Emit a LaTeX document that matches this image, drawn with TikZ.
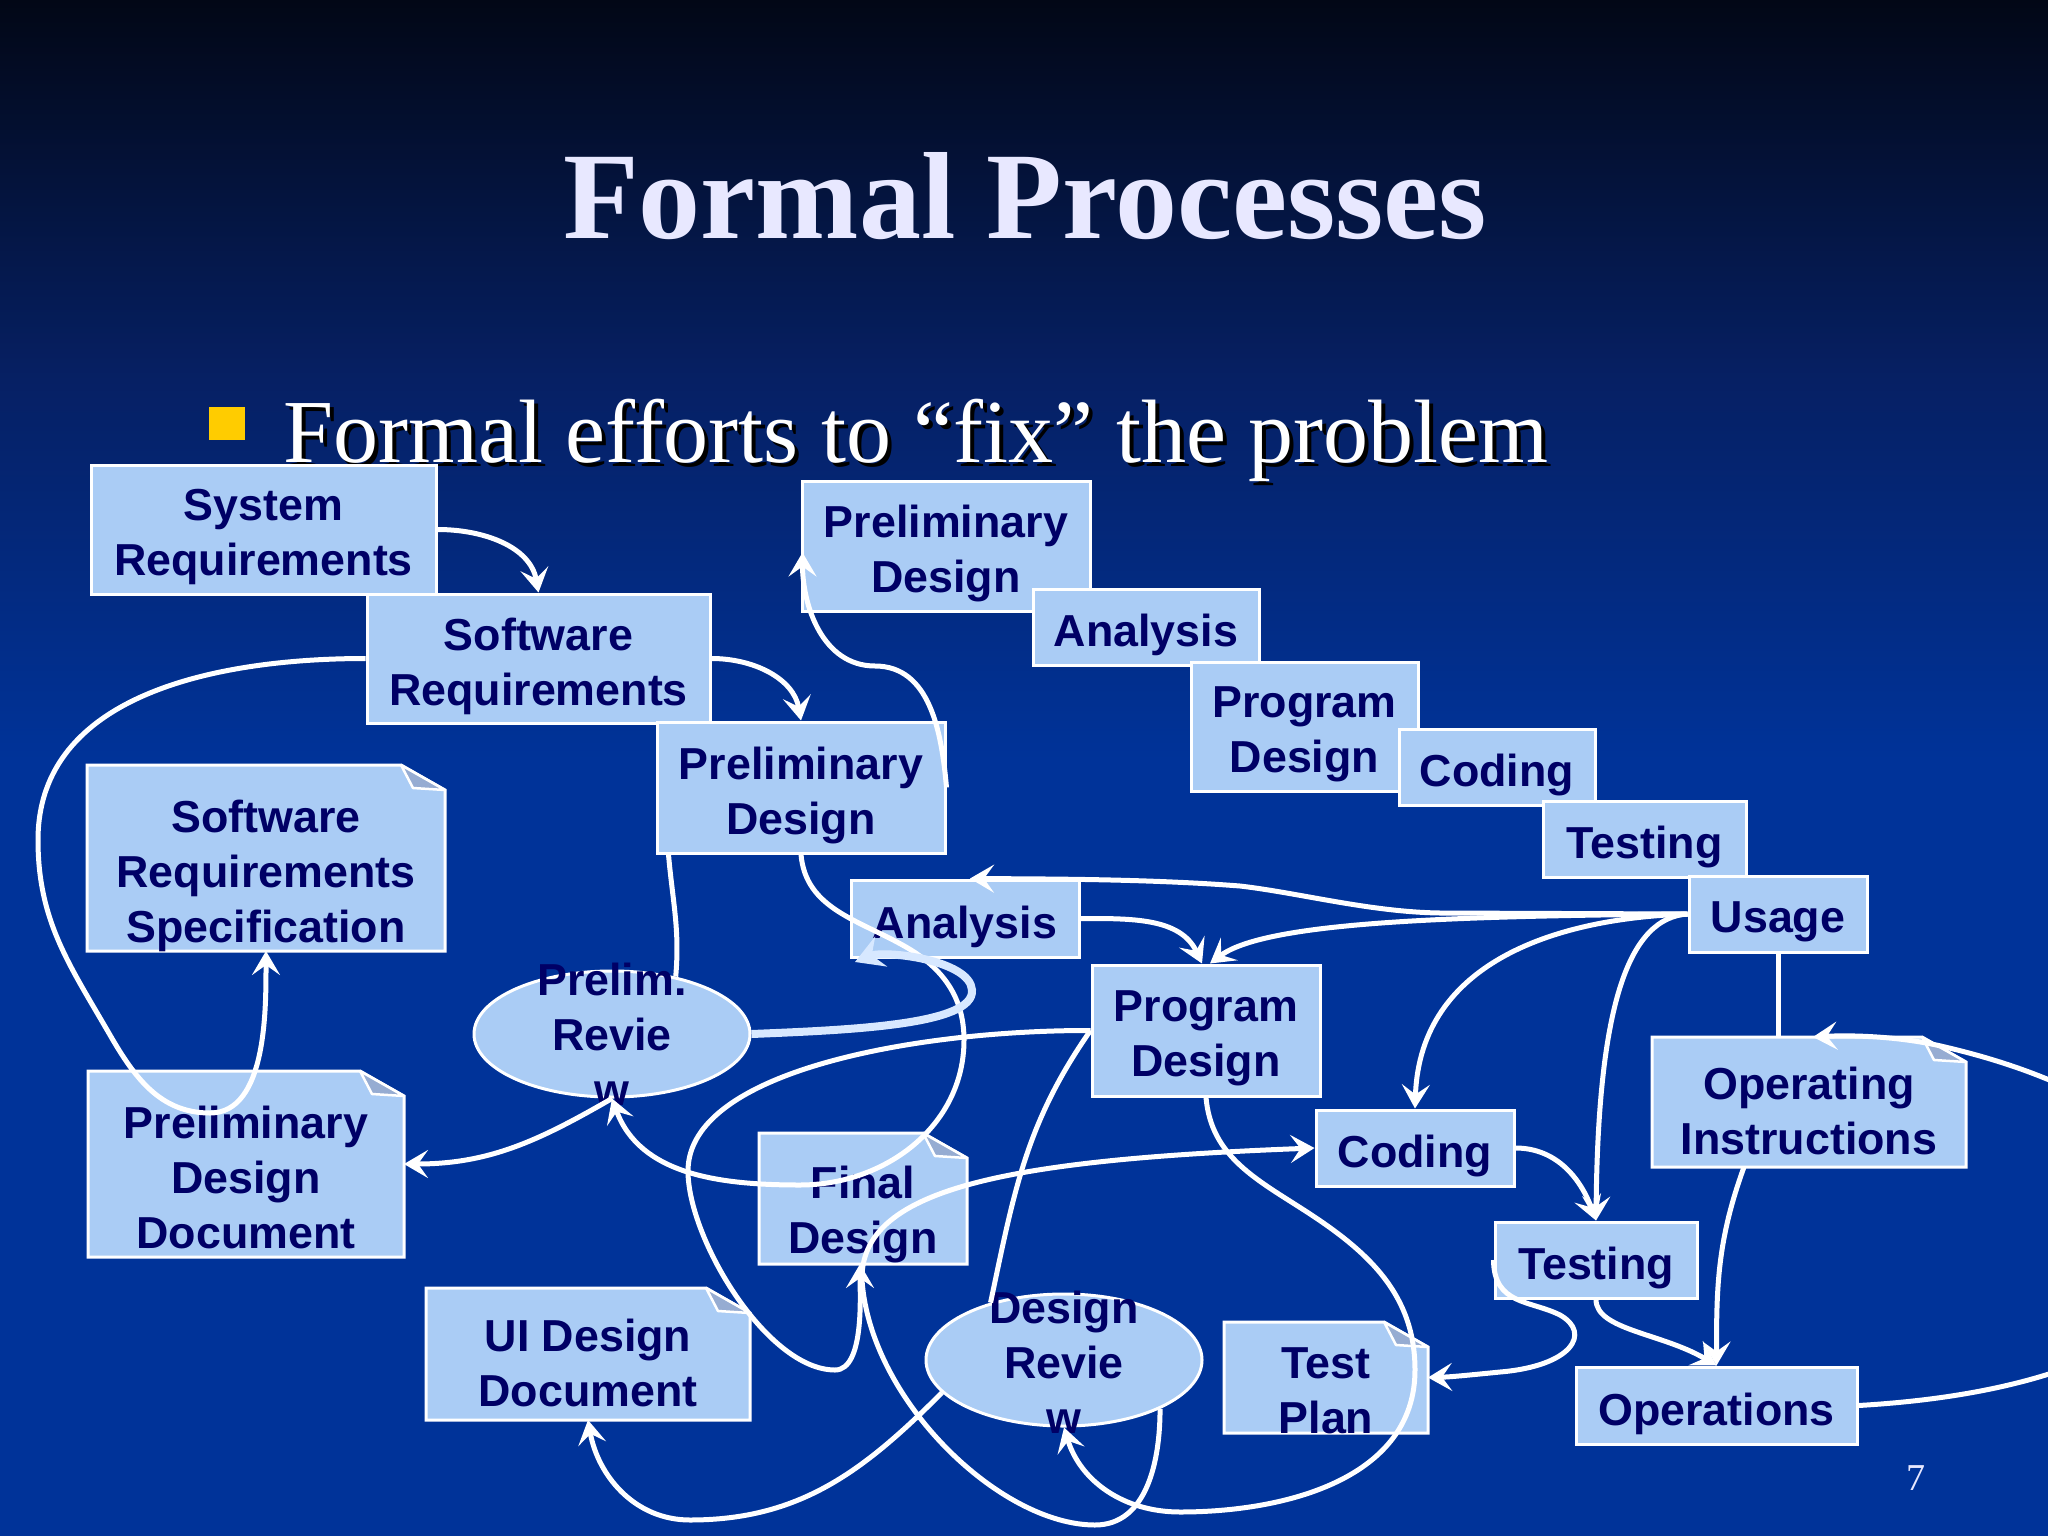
\documentclass[tikz,border=0pt]{standalone}
\usepackage{fontspec}
\setmainfont{Liberation Serif}
\newfontfamily\sansfam{Liberation Sans}
\usetikzlibrary{shapes.geometric,arrows.meta,calc}
\definecolor{bgtop}{RGB}{2,7,22}
\definecolor{bgmid}{RGB}{6,32,100}
\definecolor{bgbot}{RGB}{0,51,153}
\definecolor{boxfill}{RGB}{170,204,245}
\definecolor{navy}{RGB}{0,0,102}
\definecolor{flapcol}{RGB}{150,172,210}
\definecolor{lightline}{RGB}{215,232,255}
\definecolor{titlecol}{RGB}{232,232,255}
\definecolor{bulletcol}{RGB}{255,204,0}
\tikzset{
  boxtext/.style={text=navy, font=\sansfam\bfseries\fontsize{44.8}{55}\selectfont, align=center, inner sep=0pt},
  pbox/.style={rectangle, fill=boxfill, draw=white, line width=3pt, inner sep=0pt},
  docframe/.style={rectangle, inner sep=0pt, outer sep=0pt},
  oval/.style={ellipse, fill=boxfill, draw=white, line width=3pt, inner sep=0pt},
  conn/.style={draw=white, line width=5pt, -{Stealth[length=24pt,width=28pt,inset=10pt]}},
  lightconn/.style={draw=lightline, line width=8pt, -{Stealth[length=28pt,width=32pt,inset=10pt]}},
  plainline/.style={draw=white, line width=5pt}
}
% name, cx, cy, w, h, text
\newcommand\boxnode[6]{%
  \node[pbox, minimum width=#4pt, minimum height=#5pt] (#1) at (#2,#3) {};
  \node[boxtext] (#1-t) at ($(#1.center)+(0,8)$) {#6};
}
% name, cx, cy, w, h, text offset, text
\newcommand\docnode[7]{%
  \node[docframe, minimum width=#4pt, minimum height=#5pt] (#1) at (#2,#3) {};
  \path[fill=boxfill, draw=white, line width=3pt]
    (#1.north west) -- ($(#1.north east)+(-44,0)$) -- ($(#1.north east)+(0,25)$) -- (#1.south east) -- (#1.south west) -- cycle;
  \path[fill=flapcol, draw=white, line width=2.5pt, line join=round]
    ($(#1.north east)+(-44,0)$) -- ($(#1.north east)+(-32,23)$) -- ($(#1.north east)+(0,25)$) -- cycle;
  \node[boxtext] (#1-t) at ($(#1.center)+(0,#6)$) {#7};
}
\begin{document}
\begin{tikzpicture}[x=1pt,y=-1pt]
\useasboundingbox (0,0) rectangle (2048,1536);
\begin{scope}
\clip (0,0) rectangle (2048,1536);
% background
\shade[top color=bgtop, bottom color=bgbot, middle color=bgmid] (0,0) rectangle (2048,760);
\fill[bgbot] (0,759) rectangle (2048,1536);

% title and bullet
\node[anchor=base, text=titlecol, font=\bfseries\fontsize{124}{130}\selectfont] (title) at (1025,238) {Formal Processes};
\node[fill=bulletcol, minimum width=36pt, minimum height=33pt, inner sep=0pt] (bsq) at (227,423.5) {};
\node[anchor=base west, text=black, font=\fontsize{90}{95}\selectfont, inner sep=0pt] (bulshadow) at (287,466) {Formal efforts to “fix” the problem};
\node[anchor=base west, text=white, font=\fontsize{90}{95}\selectfont, inner sep=0pt] (bullet) at (283,462) {Formal efforts to “fix” the problem};

% boxes
\boxnode{sysreq}{263.5}{529.5}{345}{129}{System\\Requirements}
\boxnode{swreq}{538.5}{658.5}{343}{129}{Software\\Requirements}
\boxnode{pd2}{801}{787.5}{288}{131}{Preliminary\\Design}
\boxnode{pd1}{946}{546}{288}{130}{Preliminary\\Design}
\boxnode{an1}{1146}{627}{226}{76}{Analysis}
\boxnode{pgd1}{1304.5}{726.5}{227}{129}{Program\\Design}
\boxnode{cod1}{1497}{767}{196}{76}{Coding}
\boxnode{tst1}{1644.5}{839}{203}{76}{Testing}
\boxnode{usage}{1778}{914}{178}{76}{Usage}
\boxnode{an2}{965}{918.5}{228}{77}{Analysis}
\boxnode{pgd2}{1206}{1030.5}{228}{131}{Program\\Design}
\boxnode{cod2}{1415}{1148}{198}{76}{Coding}
\boxnode{tst2}{1596}{1260}{202}{76}{Testing}
\boxnode{ops}{1716.5}{1405.5}{281}{77}{Operations}

\docnode{srs}{266}{858}{358}{186}{18}{Software\\Requirements\\Specification}
\docnode{pdd}{246}{1164}{316}{186}{13}{Preliminary\\Design\\Document}
\docnode{uid}{588}{1354}{324}{132}{9}{UI Design\\Document}
\docnode{fd}{863}{1198.5}{208}{131}{16}{Final\\Design}
\docnode{tpl}{1326}{1377.5}{204}{111}{13}{Test\\Plan}
\docnode{opi}{1809}{1102}{314}{130}{9}{Operating\\Instructions}

\node[oval, minimum width=276pt, minimum height=126pt] (prev) at (612,1034) {};
\node[boxtext] (prev-t) at (prev.center) {Prelim.\\Revie\\w};
\node[oval, minimum width=276pt, minimum height=132pt] (drev) at (1064,1360) {};
\node[boxtext] (drev-t) at ($(drev.center)+(0,2)$) {Design\\Revie\\w};

% connectors
\draw[conn] (sysreq.east) to[out=0,in=100] (swreq.north);
\draw[conn] (swreq.east) to[out=0,in=100] (pd2.north);
\draw[conn] (swreq.west) to[out=180,in=90] (38,840) to[out=270,in=120] (110,1035)
  to[out=300,in=180] (210,1113) to[out=0,in=270,looseness=0.85] (srs.south);
\draw[conn] (prev.south) to[out=210,in=0] (pdd.east);
\draw[conn] (pd2.south) to[out=275,in=150] (906,947) to[out=-30,in=90] (964,1040)
  to[out=270,in=0] (800,1185) to[out=180,in=290] (prev.south);
\draw[lightconn] (prev.east) .. controls (850,1030) and (975,1025) .. (972,990)
  .. controls (970,960) and (885,950) .. (855,962);
\draw[plainline] ($(pd2.south west)+(13,0)$) to[out=275,in=85] (prev.42);
\draw[conn] (pd2.east) to[out=95,in=0] (875,666) to[out=180,in=270] ($(pd1.south west)+(2,-60)$);
\draw[conn] (usage.west) -- (1440,913) .. controls (1370,912) and (1300,893) .. (1240,886)
  .. controls (1150,879) and (1050,879) .. ($(an2.north)+(5,0)$);
\draw[conn] (usage.west) .. controls (1450,916) and (1265,922) .. ($(pgd2.north)+(4,0)$);
\draw[conn] (an2.east) to[out=0,in=115] ($(pgd2.north)+(-4,0)$);
\draw[conn] (usage.west) .. controls (1560,918) and (1420,960) .. (cod2.north);
\draw[conn] (usage.west) .. controls (1630,918) and (1598,1000) .. (tst2.north);
\draw[conn] (cod2.east) to[out=0,in=110] (tst2.north);
\draw[plainline] (usage.south) -- (usage.south |- opi.north);
\draw[conn] (ops.east) .. controls (2300,1380) and (2300,1130) .. (1945,1047)
  .. controls (1900,1036) and (1850,1035) .. ($(opi.north)+(4,0)$);
\draw[conn] ($(opi.south west)+(92,0)$) to[out=250,in=90] (ops.north);
\draw[conn] (tst2.south) .. controls (1596,1330) and (1662,1333) .. (ops.north);
\draw[conn] (tst2.west) .. controls (1494,1305) and (1530,1300) .. (1560,1315)
  .. controls (1592,1333) and (1572,1366) .. (1500,1372)
  .. controls (1470,1375) and (1450,1377) .. (tpl.east);
\draw[conn] (pgd2.south) to[out=275,in=147] (1307,1212) to[out=-33,in=90] (1415,1370)
  to[out=270,in=0] (1180,1512) to[out=180,in=287] (drev.south);
\draw[plainline] (pgd2.west) to[out=235,in=78] (drev.142);
\draw[conn] (pgd2.west) .. controls (920,1030) and (688,1070) .. (688,1171)
  to[out=270,in=180,looseness=0.7] (835,1370) to[out=0,in=270,looseness=0.7] ($(fd.south)+(-3,0)$);
\draw[conn] (drev.-27) to[out=270,in=0] (1095,1525) .. controls (1000,1525) and (870,1400) .. (862,1280)
  .. controls (860,1190) and (1000,1160) .. (cod2.west);
\draw[conn] (drev.195) to[out=225,in=0] (690,1520) to[out=180,in=280] (uid.south);

% page number
\node[text=titlecol, font=\fontsize{38}{40}\selectfont] (pnum) at (1916,1478) {7};
\end{scope}
\end{tikzpicture}
\end{document}
